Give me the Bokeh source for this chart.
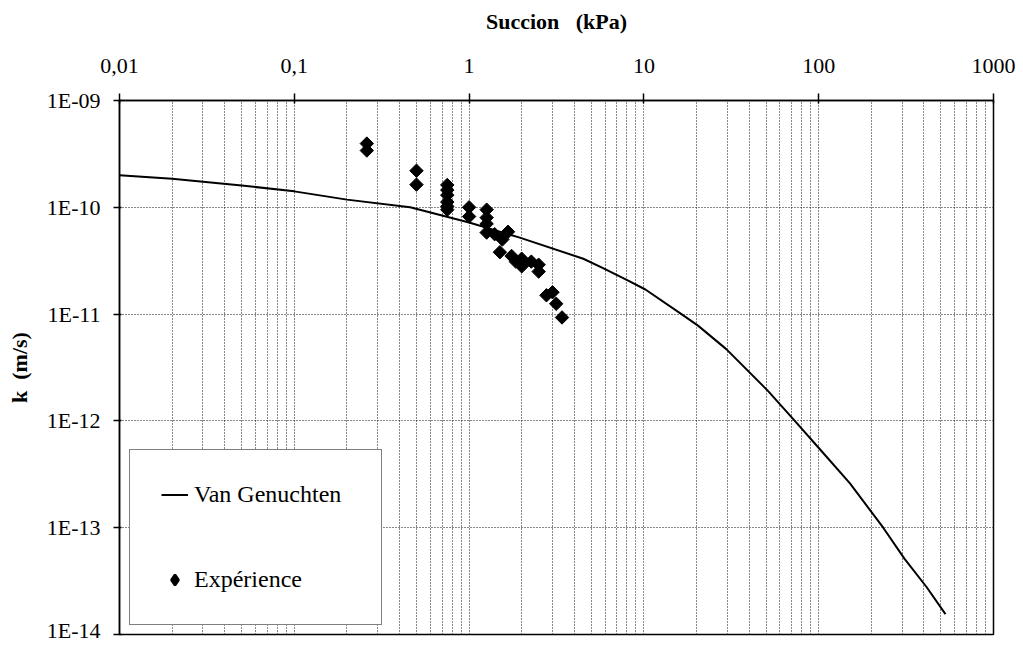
import math
from bokeh.plotting import figure
from bokeh.models import (FixedTicker, CustomJSTickFormatter, Legend, LegendItem, Range1d,
                          CDSView, IndexFilter)
from bokeh.embed import file_html
from bokeh.resources import INLINE

# ---- data ----
succion_ticks = [0.01, 0.1, 1, 10, 100, 1000]
k_ticks = [1e-14, 1e-13, 1e-12, 1e-11, 1e-10, 1e-9]

vg_succion = [0.01, 0.02, 0.05, 0.1, 0.2, 0.46, 1.0, 1.95, 4.5, 5.84, 8.13, 10.2,
              16.4, 20.4, 29.6, 51.4, 73, 104, 151, 234, 310, 413, 531]
vg_k = [2.0e-10, 1.85e-10, 1.6e-10, 1.41e-10, 1.18e-10, 1.0e-10, 7.2e-11, 5.2e-11,
        3.3e-11, 2.7e-11, 2.06e-11, 1.7e-11, 1.0e-11, 7.8e-12, 4.7e-12, 1.9e-12,
        1.0e-12, 5.2e-13, 2.6e-13, 1.0e-13, 5.1e-14, 2.8e-14, 1.55e-14]

exp_succion = [0.26, 0.26, 0.5, 0.5, 0.75, 0.75, 0.75, 0.75, 0.75, 0.75, 1.0, 1.0,
               1.26, 1.26, 1.26, 1.26, 1.4, 1.5, 1.55, 1.67, 1.75, 1.85, 2.0, 2.0,
               2.27, 2.5, 2.5, 2.77, 3.0, 3.15, 3.4]
exp_k = [3.95e-10, 3.4e-10, 2.2e-10, 1.63e-10, 1.62e-10, 1.45e-10, 1.3e-10, 1.12e-10,
         1.02e-10, 0.95e-10, 1.0e-10, 8.2e-11, 9.5e-11, 8.0e-11, 7.0e-11, 5.8e-11,
         5.6e-11, 3.8e-11, 5.0e-11, 5.9e-11, 3.5e-11, 3.1e-11, 3.3e-11, 2.8e-11,
         3.1e-11, 2.9e-11, 2.5e-11, 1.5e-11, 1.6e-11, 1.25e-11, 9.3e-12]

FONT = "'Liberation Serif', 'Times New Roman', Times, 'DejaVu Serif', serif"

p = figure(width=1015, height=642, x_axis_type="log", y_axis_type="log",
           x_range=Range1d(0.01, 1000), y_range=Range1d(1e-14, 1e-9),
           x_axis_location="above", output_backend="svg", toolbar_location=None,
           min_border_left=119, min_border_right=22, min_border_top=100,
           min_border_bottom=8)
p.background_fill_color = "white"
p.border_fill_color = "white"
p.outline_line_color = "black"
p.outline_line_width = 1.5

# ticks
x_minor = [m * t for t in succion_ticks[:-1] for m in range(2, 10)]
xt = FixedTicker(ticks=succion_ticks, minor_ticks=x_minor)
yt = FixedTicker(ticks=k_ticks, minor_ticks=[])
p.xaxis.ticker = xt
p.xgrid.ticker = xt
p.yaxis.ticker = yt
p.ygrid.ticker = yt

p.xaxis.formatter = CustomJSTickFormatter(code="return tick.toString().replace('.', ',');")
p.yaxis.formatter = CustomJSTickFormatter(code="""
const e = Math.round(Math.log10(tick));
const a = Math.abs(e);
return '1E' + (e < 0 ? '-' : '+') + (a < 10 ? '0' + a : '' + a);
""")

for ax in (p.xaxis[0], p.yaxis[0]):
    ax.axis_line_color = "black"
    ax.axis_line_width = 1.5
    ax.major_tick_line_color = "black"
    ax.major_tick_line_width = 1.5
    ax.minor_tick_line_color = None
    ax.major_label_text_font = FONT
    ax.major_label_text_font_size = "22px"
    ax.major_label_text_color = "black"
    ax.axis_label_text_font = FONT
    ax.axis_label_text_font_size = "22px"
    ax.axis_label_text_font_style = "bold"
    ax.axis_label_text_color = "black"

p.xaxis.axis_label = "Succion\u00a0\u00a0\u00a0(kPa)"
p.xaxis.major_tick_in = 3
p.xaxis.major_tick_out = 7
p.xaxis.major_label_standoff = 21
p.xaxis.axis_label_standoff = 22

p.yaxis.axis_label = "k\u00a0\u00a0(m/s)"
p.yaxis.major_tick_in = 2
p.yaxis.major_tick_out = 6
p.yaxis.major_label_standoff = 13
p.yaxis.axis_label_standoff = 12

# grids (dotted)
GRID = "#111111"
p.xgrid.grid_line_color = GRID
p.xgrid.grid_line_dash = "1 2"
p.xgrid.grid_line_width = 1
p.xgrid.minor_grid_line_color = GRID
p.xgrid.minor_grid_line_dash = "1 2"
p.xgrid.minor_grid_line_width = 1
p.ygrid.grid_line_color = GRID
p.ygrid.grid_line_dash = "1 2"
p.ygrid.grid_line_width = 1
p.ygrid.minor_grid_line_color = None

# data
r_line = p.line(vg_succion, vg_k, line_color="black", line_width=2)
# legend swatch for the experimental points: a diamond marker drawn (tiny) under the
# first measured point only, so it is hidden in the plot but gives the legend key
r_key = p.scatter(exp_succion, exp_k, marker="diamond", size=2, fill_color="black",
                  line_color="black", line_width=2.5,
                  view=CDSView(filter=IndexFilter(indices=[0])))
r_sc = p.scatter(exp_succion, exp_k, marker="square", angle=math.pi / 4, size=9.5,
                 fill_color="black", line_color="black")

legend = Legend(items=[LegendItem(label="Van Genuchten", renderers=[r_line]),
                       LegendItem(label="Expérience", renderers=[r_key])],
                location=(10, 9), padding=31, spacing=58, glyph_width=27,
                glyph_height=27, label_height=27, label_width=156, label_standoff=6,
                label_text_font=FONT, label_text_font_size="24px",
                label_text_color="black",
                border_line_color="black", border_line_width=1,
                background_fill_color="white", background_fill_alpha=1, margin=0)
p.add_layout(legend)

open("out.html", "w").write(file_html(p, INLINE))
